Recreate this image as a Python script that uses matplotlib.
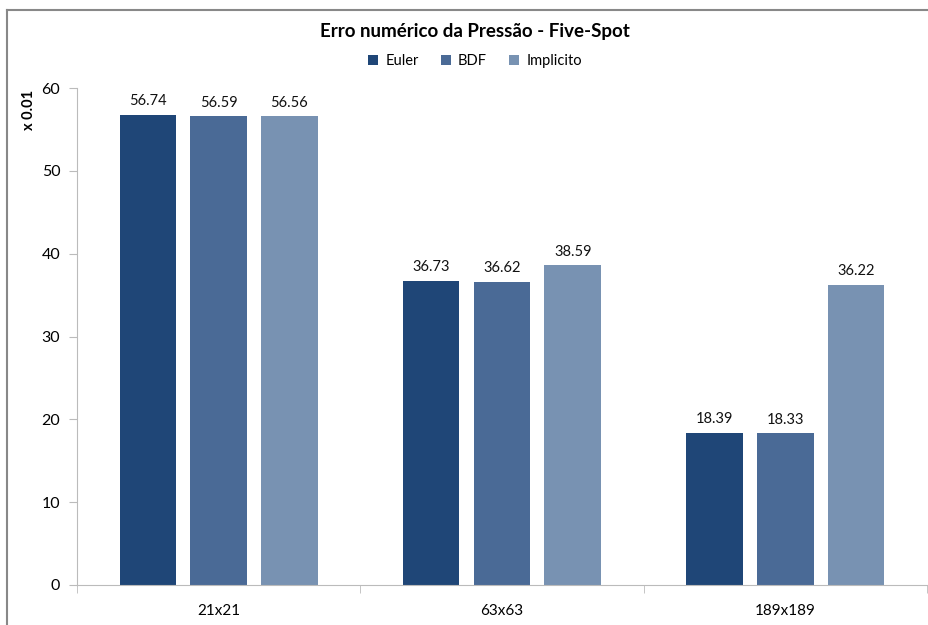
import matplotlib.pyplot as plt
import numpy as np
from matplotlib.lines import Line2D

plt.rcParams['font.family'] = ['Lato', 'DejaVu Sans']

categories = ['21x21', '63x63', '189x189']
series = ['Euler', 'BDF', 'Implicito']
euler = [56.74, 36.73, 18.39]
bdf = [56.59, 36.62, 18.33]
implicito = [56.56, 38.59, 36.22]
colors = ['#1F4677', '#4A6A96', '#7892B2']

fig = plt.figure(figsize=(9.29, 6.25), dpi=100)
ax = fig.add_axes([77 / 929, 40 / 625, 850 / 929, 497 / 625])

x = np.arange(len(categories))
width = 0.2
offset = 0.25
for i, (name, vals) in enumerate(zip(series, [euler, bdf, implicito])):
    pos = x + (i - 1) * offset
    bars = ax.bar(pos, vals, width, color=colors[i], label=name, zorder=2)
    for b, v in zip(bars, vals):
        ax.text(b.get_x() + b.get_width() / 2, v + 0.8, f'{v:.2f}',
                ha='center', va='bottom', fontsize=10.5, color='#111111')

ax.set_xlim(-0.5, 2.5)
ax.set_ylim(0, 60)
ax.set_yticks(range(0, 61, 10))
ax.set_xticks(x)
ax.set_xticklabels(categories, fontsize=11)
ax.set_xticks(np.arange(-0.5, 3, 1), minor=True)
ax.tick_params(axis='x', which='major', length=0, pad=14)
ax.tick_params(axis='x', which='minor', length=6, color='#BBBBBB', direction='out')
ax.tick_params(axis='y', length=6, color='#BBBBBB', labelsize=11.5, pad=6)

for s in ['top', 'right']:
    ax.spines[s].set_visible(False)
for s in ['left', 'bottom']:
    ax.spines[s].set_color('#BBBBBB')

ax.set_ylabel('x 0.01', fontweight='bold', fontsize=10.5)
ax.yaxis.set_label_coords(-0.048, 0.955)

fig.text(475 / 929, 1 - 31 / 625, 'Erro numérico da Pressão - Five-Spot',
         ha='center', va='center', fontsize=13.5, fontweight='bold')
fig.legend(loc='center', bbox_to_anchor=(475 / 929, 1 - 61 / 625), ncol=3,
           frameon=False, fontsize=10.5, handlelength=0.7, handleheight=0.7,
           columnspacing=1.5, handletextpad=0.5)

fig.add_artist(Line2D([7 / 929, 928 / 929], [1 - 10 / 625, 1 - 10 / 625],
                      color='#888888', linewidth=1.5, transform=fig.transFigure))
fig.add_artist(Line2D([7 / 929, 7 / 929], [0, 1 - 10 / 625],
                      color='#888888', linewidth=1.5, transform=fig.transFigure))

fig.savefig('out.png', dpi=100)
